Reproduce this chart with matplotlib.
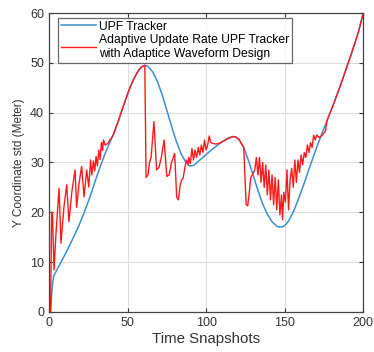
import numpy as np
import matplotlib.pyplot as plt

plt.rcParams['font.family'] = ['Liberation Sans', 'DejaVu Sans']

# UPF tracker (blue)
upf_x = [1, 2, 3, 5, 8, 11, 15, 19, 22, 26, 30, 33, 36, 39, 41, 44, 47, 51, 54, 57, 59, 61,
         63, 66, 69, 72, 75, 78, 81, 84, 87, 89.5, 92, 95, 99, 103, 107, 111, 114, 117,
         119, 121, 124, 127, 130, 133, 136, 139, 142, 145, 147, 149, 151, 153, 156, 159,
         162, 166, 170, 174, 177, 181, 185, 189, 193, 197, 200]
upf_y = [0, 5.0, 7.2, 8.4, 10.2, 12.0, 14.6, 17.3, 19.6, 23.0, 26.8, 29.5, 32.0, 34.2,
         35.6, 38.2, 41.0, 44.6, 46.8, 48.5, 49.2, 49.5, 49.3, 48.2, 46.3, 43.6, 40.5, 37.3,
         34.3, 31.8, 30.1, 29.3, 29.4, 30.2, 31.3, 32.4, 33.4, 34.3, 34.9, 35.2, 35.1,
         34.6, 33.0, 30.4, 27.4, 24.4, 21.7, 19.6, 18.1, 17.2, 17.0, 17.1, 17.6, 18.5,
         20.4, 22.8, 25.4, 29.1, 32.7, 36.0, 38.4, 41.6, 45.0, 48.6, 52.3, 56.2, 59.9]

# adaptive update rate UPF tracker with adaptive waveform design (red)
ada_x = [1, 1.7, 2.2, 3.2, 4.5, 6.4, 7.6, 9.5, 11.3, 12.7, 14.5, 16.6, 17.6, 19.2, 20.8,
         22.3, 24, 25.3, 26.5, 27.3, 28.3, 29.1, 30, 30.8, 31.7, 32.5, 33.4, 34.1, 34.7,
         35.7, 37.5, 39, 40.7, 44, 47, 51, 54, 57, 59, 61, 61.8,
         63, 64, 65, 66.8, 68.5, 70, 71.5, 73.3, 75, 76.5, 78, 80, 81.3, 82.4, 83.5, 84.5,
         85.5, 86.5, 87.5, 88.5, 89, 90, 91, 92, 93, 94, 95, 96, 97, 98, 99, 100, 101,
         102, 103, 104.5, 106, 108, 110, 112, 114, 117, 119, 121, 124,
         125.5, 126.5, 127.5, 128.5, 130, 131, 132, 133, 134, 135, 136, 137, 138, 139,
         140, 141, 142, 143, 144, 145, 146, 147, 148, 148.7, 149.5, 150.5, 151.5, 152.5,
         153.5, 154.5, 155.5, 156.5, 157.5, 158.5, 159.5, 160.5, 161.5, 162.5, 163.5,
         164.5, 165.5, 166.5, 167.5, 168.5, 169.5, 170.5, 172, 174, 176, 177, 181, 185,
         189, 193, 197, 200]
ada_y = [0, 20, 20, 8.4, 16, 24.8, 13.8, 21, 25.5, 18.1, 24, 28.5, 21, 26, 29.2, 23.1,
         28.5, 25.1, 30.5, 27.5, 30.3, 28.3, 31.2, 29.3, 32.5, 30.6, 34, 32.4, 34.5, 33.5,
         33.8, 34.6, 35.4, 38.2, 41, 44.6, 46.8, 48.5, 49.2, 49.5, 27,
         27.5, 30, 31, 38.2, 28.5, 29, 31, 34.5, 27.2, 27.5, 30, 31.8, 23, 22.5, 25.5,
         26.5, 27, 29, 30.5, 29.5, 31, 29.8, 32.8, 30.5, 32.5, 31, 33, 31.5, 33.5, 32,
         34.5, 32.5, 33.5, 35.3, 34, 33.8, 33.7, 33.8, 34.1, 34.4, 34.8, 35.2, 35.1,
         34.6, 33.0,
         21.5, 21.3, 24, 27, 27.8, 28.5, 31, 27.5, 31, 26, 30, 25, 29.5, 23.5, 28.5,
         22.5, 27.5, 21.5, 27, 20.5, 26.5, 19.5, 23.5, 18.5, 24, 22, 28.5, 20.5, 26.5,
         28.8, 25, 30.5, 26, 30.5, 28, 31.5, 29.5, 32, 31, 33.5, 32, 34, 33, 35.5, 34.5,
         35.5, 35, 35.5, 36.3, 38.4, 41.6, 45.0, 48.6, 52.3, 56.2, 59.9]

fig = plt.figure(figsize=(3.74, 3.52), dpi=100)
ax = fig.add_axes([0.131, 0.114, 0.840, 0.849])

ax.plot(upf_x, upf_y, color='#3a8fd0', lw=1.1, label='UPF Tracker')
ax.plot(ada_x, ada_y, color='#ff1a1a', lw=1.0,
        label='Adaptive Update Rate UPF Tracker\nwith Adaptice Waveform Design')

ax.set_xlim(0, 200)
ax.set_ylim(0, 60)
ax.set_xticks([0, 50, 100, 150, 200])
ax.set_yticks([0, 10, 20, 30, 40, 50, 60])
ax.grid(True, color='#dddddd', lw=0.8)
ax.tick_params(direction='in', top=True, right=True, labelsize=9,
               colors='#333333', length=3)
for s in ax.spines.values():
    s.set_color('#444444')
    s.set_linewidth(0.9)

ax.set_xlabel('Time Snapshots', fontsize=10.8, color='#333333', labelpad=2)
ax.set_ylabel('Y Coordinate std (Meter)', fontsize=8.5, color='#333333', labelpad=4)

leg = ax.legend(loc='upper left', bbox_to_anchor=(0.03, 0.985), fontsize=8.7,
                frameon=True, fancybox=False, edgecolor='#444444',
                handlelength=2.9, handletextpad=0.2, borderpad=0.25,
                labelspacing=0.1, borderaxespad=0)
leg.get_frame().set_linewidth(0.9)

fig.savefig('out.png', dpi=100)
